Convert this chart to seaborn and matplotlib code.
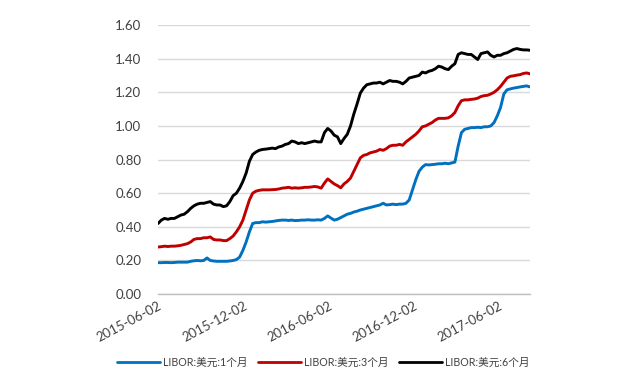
import pandas as pd
import numpy as np
import matplotlib
matplotlib.use("Agg")
import matplotlib.pyplot as plt
import matplotlib.dates as mdates
from matplotlib.ticker import FormatStrFormatter
import seaborn as sns

# weekly observations starting 2015-06-02
start_date = "2015-06-02"

libor_1m = [0.187, 0.187, 0.188, 0.188, 0.187, 0.188, 0.190, 0.190, 0.190, 0.190,
            0.195, 0.198, 0.200, 0.198, 0.200, 0.215, 0.200, 0.197, 0.195, 0.195,
            0.195, 0.195, 0.197, 0.200, 0.205, 0.220, 0.260, 0.310, 0.370, 0.420,
            0.425, 0.425, 0.430, 0.428, 0.430, 0.432, 0.435, 0.438, 0.440, 0.440,
            0.438, 0.440, 0.437, 0.438, 0.440, 0.440, 0.442, 0.440, 0.440, 0.442,
            0.440, 0.450, 0.465, 0.452, 0.440, 0.445, 0.455, 0.465, 0.475, 0.480,
            0.488, 0.493, 0.500, 0.505, 0.510, 0.515, 0.520, 0.525, 0.530, 0.540,
            0.530, 0.532, 0.535, 0.532, 0.535, 0.535, 0.540, 0.560, 0.620, 0.680,
            0.730, 0.755, 0.770, 0.768, 0.770, 0.772, 0.775, 0.775, 0.778, 0.775,
            0.780, 0.785, 0.880, 0.960, 0.980, 0.985, 0.990, 0.990, 0.992, 0.990,
            0.995, 0.995, 1.000, 1.020, 1.060, 1.110, 1.190, 1.215, 1.220, 1.225,
            1.228, 1.232, 1.235, 1.238, 1.232]

libor_3m = [0.280, 0.282, 0.285, 0.283, 0.285, 0.285, 0.287, 0.290, 0.295, 0.300,
            0.310, 0.325, 0.330, 0.330, 0.335, 0.335, 0.340, 0.325, 0.322, 0.322,
            0.318, 0.318, 0.330, 0.345, 0.370, 0.400, 0.440, 0.500, 0.560, 0.600,
            0.612, 0.617, 0.620, 0.620, 0.620, 0.621, 0.622, 0.625, 0.630, 0.632,
            0.635, 0.630, 0.632, 0.630, 0.632, 0.635, 0.635, 0.637, 0.640, 0.637,
            0.630, 0.660, 0.685, 0.670, 0.655, 0.645, 0.632, 0.655, 0.670, 0.690,
            0.730, 0.770, 0.810, 0.825, 0.830, 0.840, 0.845, 0.850, 0.860, 0.855,
            0.865, 0.880, 0.885, 0.885, 0.890, 0.885, 0.905, 0.920, 0.935, 0.950,
            0.970, 0.995, 1.000, 1.010, 1.020, 1.035, 1.045, 1.045, 1.045, 1.048,
            1.060, 1.080, 1.120, 1.150, 1.155, 1.155, 1.158, 1.160, 1.165, 1.175,
            1.180, 1.182, 1.190, 1.200, 1.215, 1.235, 1.260, 1.285, 1.295, 1.298,
            1.302, 1.305, 1.312, 1.315, 1.310]

libor_6m = [0.420, 0.440, 0.450, 0.445, 0.450, 0.450, 0.460, 0.470, 0.475, 0.490,
            0.510, 0.525, 0.535, 0.540, 0.540, 0.545, 0.550, 0.535, 0.530, 0.530,
            0.520, 0.525, 0.550, 0.585, 0.600, 0.630, 0.670, 0.720, 0.790, 0.830,
            0.845, 0.855, 0.860, 0.862, 0.865, 0.868, 0.865, 0.875, 0.880, 0.890,
            0.895, 0.910, 0.905, 0.895, 0.900, 0.895, 0.900, 0.905, 0.910, 0.905,
            0.905, 0.960, 0.985, 0.970, 0.945, 0.935, 0.895, 0.925, 0.950, 1.000,
            1.070, 1.130, 1.195, 1.225, 1.245, 1.250, 1.255, 1.255, 1.260, 1.250,
            1.260, 1.270, 1.265, 1.265, 1.260, 1.250, 1.265, 1.285, 1.290, 1.295,
            1.300, 1.320, 1.315, 1.325, 1.330, 1.340, 1.355, 1.350, 1.340, 1.335,
            1.355, 1.370, 1.425, 1.435, 1.430, 1.425, 1.425, 1.410, 1.395, 1.430,
            1.435, 1.440, 1.420, 1.410, 1.420, 1.420, 1.430, 1.435, 1.445, 1.455,
            1.460, 1.455, 1.452, 1.452, 1.450]

series_names = ["LIBOR:美元:1个月", "LIBOR:美元:3个月", "LIBOR:美元:6个月"]
series_colors = ["#0070C0", "#C00000", "#000000"]
tick_dates = ["2015-06-02", "2015-12-02", "2016-06-02", "2016-12-02", "2017-06-02"]
y_ticks = [0.0, 0.2, 0.4, 0.6, 0.8, 1.0, 1.2, 1.4, 1.6]

dates = pd.date_range(start_date, periods=len(libor_1m), freq="7D")
df = pd.DataFrame({"date": dates,
                   series_names[0]: libor_1m,
                   series_names[1]: libor_3m,
                   series_names[2]: libor_6m})
long_df = df.melt(id_vars="date", var_name="series", value_name="rate")

sns.set_style("white")
plt.rcParams["font.family"] = ["Lato", "Noto Sans CJK SC", "DejaVu Sans"]

fig = plt.figure(figsize=(6.4, 3.79), dpi=100)
ax = fig.add_axes([0.247, 0.224, 0.581, 0.71])

sns.lineplot(data=long_df, x="date", y="rate", hue="series",
             palette=dict(zip(series_names, series_colors)),
             linewidth=2.1, ax=ax, legend=False)

ax.set_ylim(0, 1.6)
ax.set_xlim(dates[0], dates[-1])
ax.set_yticks(y_ticks)
ax.yaxis.set_major_formatter(FormatStrFormatter("%.2f"))
ax.set_xticks(pd.to_datetime(tick_dates))
ax.xaxis.set_major_formatter(mdates.DateFormatter("%Y-%m-%d"))
ax.grid(axis="y", color="#d9d9d9", linewidth=1.0)
ax.set_axisbelow(True)
for s in ["left", "right", "top"]:
    ax.spines[s].set_visible(False)
ax.spines["bottom"].set_color("#bfbfbf")
ax.spines["bottom"].set_linewidth(1.0)
ax.tick_params(axis="both", length=0, labelsize=9.5, colors="#404040")
ax.tick_params(axis="y", pad=12)
ax.tick_params(axis="x", pad=4)
plt.setp(ax.get_xticklabels(), rotation=28, ha="right", rotation_mode="anchor")
ax.set_xlabel("")
ax.set_ylabel("")

handles = [plt.Line2D([], [], color=c, linewidth=2.0) for c in series_colors]
fig.legend(handles, series_names, loc="center", bbox_to_anchor=(0.505, 0.043),
           ncol=3, frameon=False, fontsize=7.7, handlelength=4.0,
           handletextpad=0.3, columnspacing=1.0, labelcolor="#404040")

fig.savefig("out.png", dpi=100)
